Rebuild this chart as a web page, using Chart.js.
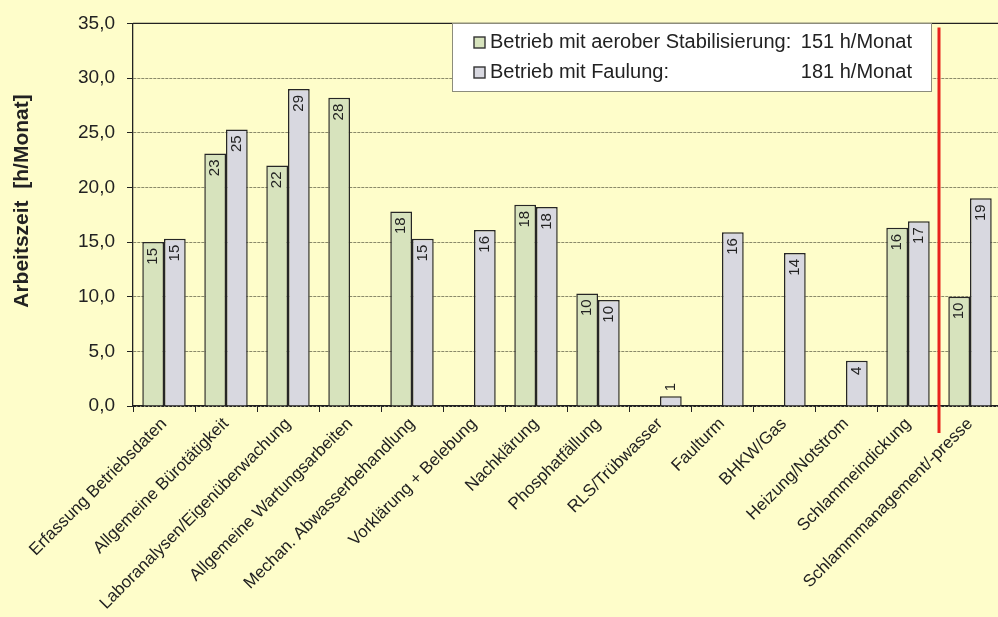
<!DOCTYPE html>
<html>
<head>
<meta charset="utf-8">
<title>Arbeitszeit je Tätigkeitsbereich</title>
<script src="https://cdn.jsdelivr.net/npm/chart.js@4.4.1/dist/chart.umd.min.js"></script>
<style>
  html, body { margin: 0; padding: 0; background: #FEFDCA; overflow: hidden; }
  #wrap { width: 1004px; height: 617px; }
</style>
</head>
<body>
<div id="wrap"><canvas id="arbeitszeit"></canvas></div>
<script>
const categories = [
  'Erfassung Betriebsdaten',
  'Allgemeine Bürotätigkeit',
  'Laboranalysen/Eigenüberwachung',
  'Allgemeine Wartungsarbeiten',
  'Mechan. Abwasserbehandlung',
  'Vorklärung + Belebung',
  'Nachklärung',
  'Phosphatfällung',
  'RLS/Trübwasser',
  'Faulturm',
  'BHKW/Gas',
  'Heizung/Notstrom',
  'Schlammeindickung',
  'Schlammmanagement/-presse'
];
// h/Monat
const aerob   = [15.0, 23.1, 22.0, 28.2, 17.8, null, 18.4, 10.3, null, null, null, null, 16.3, 10.0];
const faulung = [15.3, 25.3, 29.0, null, 15.3, 16.1, 18.2, 9.7, 0.9, 15.9, 14.0, 4.15, 16.9, 19.0];
const seriesNames = ['Betrieb mit aerober Stabilisierung:', 'Betrieb mit Faulung:'];
const yTicks = [0, 5, 10, 15, 20, 25, 30, 35];
const yTitle = 'Arbeitszeit  [h/Monat]';
// the last category sits behind the red separator and is not part of the totals
const separatorAfter = 12;

const FONT = "'Liberation Sans', Arial, sans-serif";
const colors = ['#D7E3BD', '#D8D8E0'];
Chart.defaults.font.family = FONT;

const sumUpTo = arr => arr.slice(0, separatorAfter + 1).reduce((s, v) => s + (v || 0), 0);
const totals = [sumUpTo(aerob), sumUpTo(faulung)];

const extras = {
  id: 'extras',
  afterDatasetsDraw(chart) {
    const ctx = chart.ctx;
    ctx.save();
    ctx.font = '15px ' + FONT;
    ctx.fillStyle = '#222';
    ctx.textBaseline = 'middle';
    chart.data.datasets.forEach((ds, di) => {
      chart.getDatasetMeta(di).data.forEach((bar, i) => {
        const v = ds.data[i];
        if (v == null) return;
        const txt = String(Math.round(v));
        const w = ctx.measureText(txt).width;
        ctx.save();
        ctx.translate(bar.x, bar.y);
        ctx.rotate(-Math.PI / 2);
        if (bar.base - bar.y > w + 12) {
          ctx.textAlign = 'right';
          ctx.fillText(txt, -6, 0);
        } else {
          ctx.textAlign = 'left';
          ctx.fillText(txt, 5, 0);
        }
        ctx.restore();
      });
    });
    ctx.restore();
  },
  afterDraw(chart) {
    const ctx = chart.ctx;
    const area = chart.chartArea;
    const x = chart.scales.x;
    ctx.save();

    // top frame line
    ctx.strokeStyle = '#222';
    ctx.lineWidth = 1.3;
    ctx.beginPath();
    ctx.moveTo(area.left, area.top);
    ctx.lineTo(area.right, area.top);
    ctx.stroke();

    // red separator
    const sx = (x.getPixelForValue(separatorAfter) + x.getPixelForValue(separatorAfter + 1)) / 2;
    ctx.strokeStyle = '#E8231D';
    ctx.lineWidth = 3;
    ctx.beginPath();
    ctx.moveTo(sx, area.top + 4);
    ctx.lineTo(sx, area.bottom + 27);
    ctx.stroke();

    // legend box
    const lx = 452, ly = 23, lw = 479, lh = 68;
    ctx.fillStyle = '#FFFFFF';
    ctx.fillRect(lx, ly, lw, lh);
    ctx.strokeStyle = '#8C8C7C';
    ctx.lineWidth = 1;
    ctx.strokeRect(lx + 0.5, ly + 0.5, lw, lh);
    ctx.font = '20px ' + FONT;
    ctx.textBaseline = 'middle';
    seriesNames.forEach((name, i) => {
      const cy = ly + 19 + i * 30;
      ctx.fillStyle = colors[i];
      ctx.fillRect(lx + 22, cy - 5, 11, 11);
      ctx.strokeStyle = '#333';
      ctx.lineWidth = 1.4;
      ctx.strokeRect(lx + 22, cy - 5, 11, 11);
      ctx.fillStyle = '#222';
      ctx.textAlign = 'left';
      ctx.fillText(name, lx + 38, cy);
      ctx.textAlign = 'right';
      ctx.fillText(Math.round(totals[i]) + ' h/Monat', lx + 460, cy);
    });

    // y axis title
    ctx.font = 'bold 21px ' + FONT;
    ctx.fillStyle = '#222';
    ctx.textAlign = 'center';
    ctx.translate(22, 201);
    ctx.rotate(-Math.PI / 2);
    ctx.fillText(yTitle, 0, 0);
    ctx.restore();
  }
};

new Chart(document.getElementById('arbeitszeit'), {
  type: 'bar',
  data: {
    labels: categories,
    datasets: [
      { label: seriesNames[0], data: aerob, backgroundColor: colors[0], borderColor: '#262626', borderWidth: 1.5 },
      { label: seriesNames[1], data: faulung, backgroundColor: colors[1], borderColor: '#262626', borderWidth: 1.5 }
    ]
  },
  options: {
    responsive: true,
    maintainAspectRatio: false,
    animation: false,
    layout: { padding: { top: 18, right: 3, left: 0, bottom: 0 } },
    datasets: { bar: { categoryPercentage: 0.7, barPercentage: 1.0 } },
    plugins: { legend: { display: false }, tooltip: { enabled: false } },
    scales: {
      x: {
        grid: { drawOnChartArea: false, offset: true, tickLength: 6, color: '#222' },
        border: { color: '#222', width: 1.3 },
        ticks: { autoSkip: false, minRotation: 45, maxRotation: 45, padding: 2, color: '#222', font: { size: 17 } },
        afterFit: s => { s.height = 211; }
      },
      y: {
        min: yTicks[0],
        max: yTicks[yTicks.length - 1],
        afterBuildTicks: s => { s.ticks = yTicks.map(v => ({ value: v })); },
        grid: {
          color: c => c.tick && c.tick.value === 0 ? '#222' : 'rgba(125,125,95,0.9)',
          tickColor: '#222',
          tickLength: 6,
          tickBorderDash: []
        },
        border: { color: '#222', width: 1.3, dash: [3, 1] },
        ticks: {
          padding: 12,
          color: '#222',
          font: { size: 19 },
          callback: v => v.toFixed(1).replace('.', ',')
        },
        afterFit: s => { s.width = 133; }
      }
    }
  },
  plugins: [extras]
});
</script>
</body>
</html>
